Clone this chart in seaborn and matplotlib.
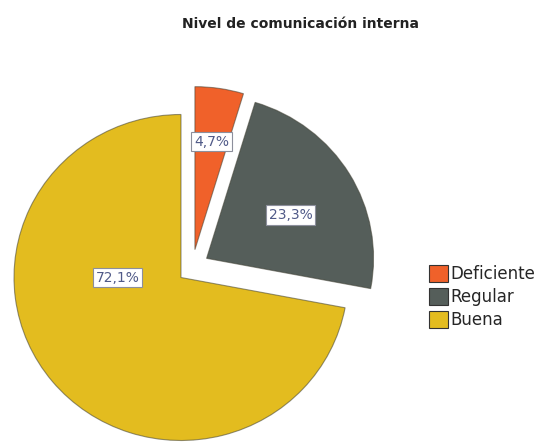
import numpy as np
import matplotlib
matplotlib.use("Agg")
import matplotlib.pyplot as plt
import seaborn as sns

# Data
categories = ["Deficiente", "Regular", "Buena"]
percentages = [4.7, 23.3, 72.1]
pct_labels = ["4,7%", "23,3%", "72,1%"]
title = "Nivel de comunicación interna"

# Styling
colors = sns.color_palette(["#F0612A", "#555E5A", "#E3BC1F"])
explode_dist = [0.19, 0.193, 0.0]       # pull-out distance (radius units)
explode_dir = [26.0, 52.5, 0.0]         # pull-out direction, degrees clockwise from 12 o'clock
label_dist = [0.67, 0.57, 0.38]         # label distance from the slice tip
label_dir = [None, 62.0, 270.0]         # None -> slice mid-angle

sns.set_theme(style="white")
plt.rcParams["font.family"] = ["DejaVu Sans"]

fig = plt.figure(figsize=(5.45, 4.43), dpi=100)
ax = fig.add_axes([0, 0, 1, 1])
RX, RY = 167.0, 163.0
cx, cy = 181.0, 277.5
W, H = 545.0, 443.0

wedges, _ = ax.pie(
    percentages,
    colors=colors,
    startangle=90,
    counterclock=False,
    radius=1.0,
    center=(0, 0),
    wedgeprops=dict(edgecolor=(0.25, 0.25, 0.2, 0.55), linewidth=0.8),
    frame=False,
)
ax.set_aspect("auto")
ax.set_xlim(-cx / RX, (W - cx) / RX)
ax.set_ylim(-(H - cy) / RY, cy / RY)
ax.set_axis_off()

total = sum(percentages)
start = 0.0
for w, p, lab, ed, edir, ld, ldir in zip(wedges, percentages, pct_labels,
                                         explode_dist, explode_dir,
                                         label_dist, label_dir):
    span = 360.0 * p / total
    mid = start + span / 2
    start += span
    a = np.deg2rad(edir)
    ox, oy = ed * np.sin(a), ed * np.cos(a)
    w.set_center((ox, oy))
    la = np.deg2rad(mid if ldir is None else ldir)
    tx, ty = ox + ld * np.sin(la), oy + ld * np.cos(la)
    ax.text(tx, ty, lab, ha="center", va="center", fontsize=10,
            color="#505a88",
            bbox=dict(boxstyle="square,pad=0.2", facecolor="white",
                      edgecolor="#8c8f9c", linewidth=0.8))

fig.text(300 / W, 1 - 24 / H, title, ha="center", va="center",
         fontsize=10, fontweight="bold", color="#222222")

leg = fig.legend(
    wedges, categories,
    loc="upper left", bbox_to_anchor=(429 / W, 1 - 265 / H),
    frameon=False, fontsize=12,
    handlelength=1.15, handleheight=1.15, handletextpad=0.15,
    labelspacing=0.3, borderpad=0.0, borderaxespad=0.0,
)
for h in leg.legend_handles:
    h.set_edgecolor("#333333")
    h.set_linewidth(0.8)

fig.savefig("out.png", dpi=100)
